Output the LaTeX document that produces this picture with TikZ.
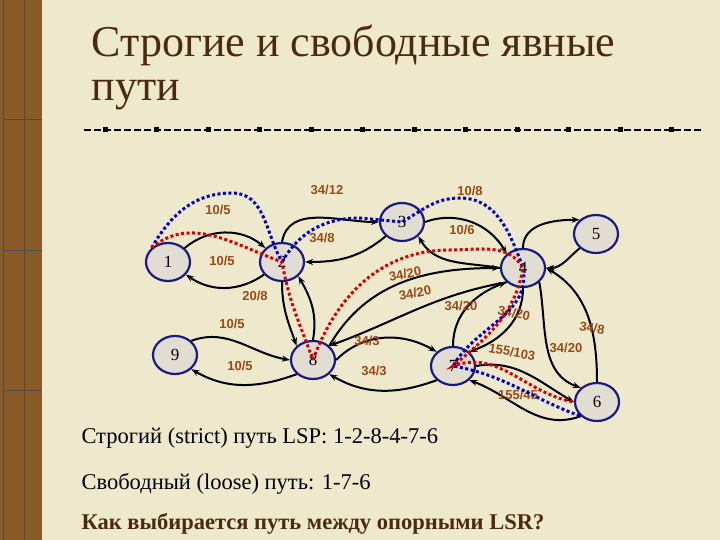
\documentclass[tikz,border=0pt]{standalone}
\usepackage{fontspec}
\setmainfont{Liberation Serif}
\newfontfamily\lblfont{Liberation Sans}
\usetikzlibrary{arrows.meta,shapes.geometric}
\definecolor{bg}{HTML}{EEE8CC}
\definecolor{nodefill}{HTML}{E2DDD2}
\definecolor{navy}{HTML}{1A1A80}
\definecolor{lbl}{HTML}{9A4A14}
\definecolor{ttl}{HTML}{4A2A10}
\definecolor{bar}{HTML}{8A5A28}
\tikzset{
 nd/.style={ellipse,draw=navy,line width=2.2pt,fill=nodefill,minimum width=44pt,minimum height=38pt,inner sep=0pt,font=\fontsize{17}{17}\selectfont},
 ed/.style={-{Stealth[length=8pt,width=6pt]},line width=2pt,black},
 lb/.style={text=lbl,font=\lblfont\bfseries\fontsize{13}{13}\selectfont},
 red path/.style={red!85!black,line width=3pt,dash pattern=on 3pt off 2.5pt},
 blue path/.style={blue!75!black,line width=3pt,dash pattern=on 3pt off 2.5pt},
}
\begin{document}
\begin{tikzpicture}[x=1pt,y=-1pt]
\useasboundingbox (0,0) rectangle (720,540);
\fill[bg] (0,0) rectangle (720,540);
\fill[bar] (0,0) rectangle (42,540);
\foreach \xx in {3,24} \draw[black!70,line width=1pt] (\xx,0) -- (\xx,540);
\foreach \yy in {120,250,390} \draw[black!70,line width=1pt] (3,\yy) -- (42,\yy);
\node[anchor=west,text=ttl,font=\fontsize{44}{44}\selectfont] (t1) at (88,45) {Строгие и свободные явные};
\node[anchor=west,text=ttl,font=\fontsize{44}{44}\selectfont] (t2) at (88,95) {пути};
\draw[black,line width=1.2pt,dash pattern=on 7pt off 3pt] (84,130) -- (702,130);
\foreach \i in {0,...,11} \fill[black] (105+\i*51.5-2.5,127.5) rectangle ++(5,5);
% nodes
\node[nd] (n1) at (168,262) {1};
\node[nd] (n2) at (282,262) {2};
\node[nd] (n3) at (402,222) {3};
\node[nd] (n4) at (523,268) {4};
\node[nd] (n5) at (596,234) {5};
\node[nd] (n9) at (175,355) {9};
\node[nd] (n8) at (313,360) {8};
\node[nd] (n7) at (453,366) {7};
\node[nd] (n6) at (597,402) {6};
% edges
\draw[ed] (n1) to[bend left=40] (n2);
\draw[ed] (n2) to[bend left=35] (n1);
\draw[ed] (n2.north) to[out=80,in=180] (n3.west);
\draw[ed] (n3.south west) to[out=220,in=0] (n2.east);
\draw[ed] (n3.east) to[out=20,in=120] (n4.north west);
\draw[ed] (n4.west) to[out=170,in=-60] (n3.south east);
\draw[ed] (n4.north) to[out=90,in=180] (n5.north west);
\draw[ed] (n5.south west) to[out=220,in=0] (n4.east);
\draw[ed] (n2.south) to[out=-90,in=110] (n8.north west);
\draw[ed] (n8.north) to[out=80,in=-60] (n2.south east);
\draw[ed] (n9.north east) to[out=20,in=170] (n8.west);
\draw[ed] (n8.south west) to[out=200,in=-30] (n9.south east);
\draw[ed] (n8.north east) to[out=60,in=180] (n4.west);
\draw[ed] (n4.south west) to[out=190,in=20] (n8.north east);
\draw[ed] (n8.east) to[out=45,in=150] (n7.north west);
\draw[ed] (n7.south west) to[out=200,in=-30] (n8.south east);
\draw[ed] (n7.north) to[out=90,in=200] (n4.south west);
\draw[ed] (n4.south) to[out=-90,in=20] (n7.north east);
\draw[ed] (n4.south east) to[out=-80,in=160] (n6.north west);
\draw[ed] (n6.north) to[out=90,in=-30] (n4.east);
\draw[ed] (n7.east) to[out=10,in=150] (n6.west);
\draw[ed] (n6.south west) to[out=200,in=-20] (n7.south east);
% labels
\node[lb] (l1) at (218,210) {10/5};
\node[lb] (l2) at (222,261) {10/5};
\node[lb] (l3) at (327,190) {34/12};
\node[lb] (l4) at (322,238) {34/8};
\node[lb] (l5) at (470,191) {10/8};
\node[lb] (l6) at (462,230) {10/6};
\node[lb] (l7) at (255,296) {20/8};
\node[lb] (l8) at (232,324) {10/5};
\node[lb] (l9) at (240,366) {10/5};
\node[lb,rotate=12] (l10) at (405,274) {34/20};
\node[lb,rotate=12] (l11) at (415,293) {34/20};
\node[lb] (l12) at (367,341) {34/3};
\node[lb] (l13) at (374,371) {34/3};
\node[lb] (l14) at (461,306) {34/20};
\node[lb,rotate=-12] (l15) at (514,313) {34/20};
\node[lb] (l16) at (566,348) {34/20};
\node[lb,rotate=-10] (l17) at (592,328) {34/8};
\node[lb,rotate=-10] (l18) at (512,352) {155/103};
\node[lb] (l19) at (518,395) {155/45};
% paths
\draw[blue path] (n1.north west) to[out=60,in=180] (232,193) to[out=0,in=120] (n2.center);
\draw[blue path] (n2.center) to[out=60,in=180] (360,218) -- (n3.center) to[out=30,in=180] (460,198) to[out=0,in=110] (n4.center) to[out=-80,in=60] (n7.center) to[out=-10,in=160] (n6.south west);
\draw[red path] (n1.north west) to[out=40,in=160] (n2.center) to[out=-80,in=110] (n8.center);
\draw[red path] (n8.center) to[out=70,in=180] (450,250) to[out=0,in=120] (n4.center) to[out=-100,in=40] (n7.center) to[out=20,in=170] (n6.west);
% bottom text
\node[anchor=west,font=\fontsize{22.5}{22.5}\selectfont] (b1) at (78,438) {Строгий (strict) путь LSP: 1-2-8-4-7-6};
\node[anchor=west,font=\fontsize{22.5}{22.5}\selectfont] (b2) at (78,484) {Свободный (loose) путь: 1-7-6};
\node[anchor=west,text=ttl,font=\bfseries\fontsize{22.5}{22.5}\selectfont] (b3) at (78,524) {Как выбирается путь между опорными LSR?};
\end{tikzpicture}
\end{document}
